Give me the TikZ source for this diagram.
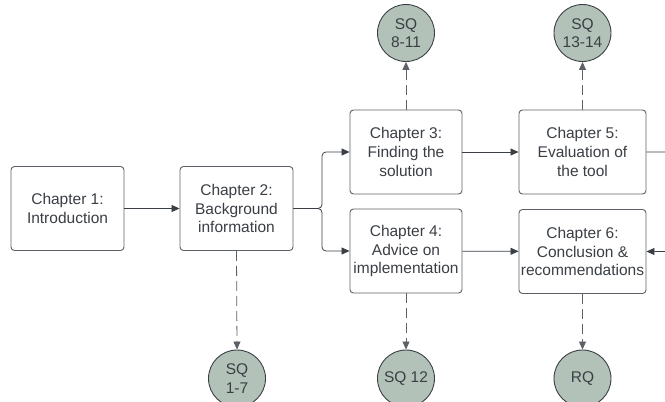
\documentclass[tikz,border=0pt]{standalone}
\usepackage{fontspec}
\setmainfont{Liberation Sans}
\usetikzlibrary{arrows.meta}
\definecolor{ink}{HTML}{3A3F45}
\definecolor{edge}{HTML}{5C6167}
\definecolor{sage}{HTML}{B3C2B8}
\begin{document}
\begin{tikzpicture}[x=1pt,y=-1pt,
  chapter/.style={draw=edge,line width=0.9pt,rounded corners=3.5pt,fill=white,
    align=center,text=ink,inner sep=1pt,minimum height=84pt,
    font=\fontsize{15.5}{18.6}\selectfont},
  question/.style={circle,draw=ink,line width=0.9pt,fill=sage,align=center,
    text=ink,minimum size=57pt,inner sep=0pt,font=\fontsize{15.5}{18.6}\selectfont},
  flow/.style={draw=ink,line width=0.8pt,-{Triangle[length=8pt,width=7pt]}},
  link/.style={draw=edge,line width=0.8pt,dash pattern=on 10pt off 5pt,
    -{Triangle[length=8pt,width=7pt]}}]
\useasboundingbox (0,0) rectangle (665,402);
\clip (0,0) rectangle (665,402);
% chapters
\node[chapter,minimum width=113pt] (c1) at (67.5,208.5) {Chapter 1:\\Introduction};
\node[chapter,minimum width=113pt] (c2) at (236.5,208.5) {Chapter 2:\\Background\\information};
\node[chapter,minimum width=112pt] (c3) at (406,152) {Chapter 3:\\Finding the\\solution};
\node[chapter,minimum width=112pt] (c4) at (406,251) {Chapter 4:\\Advice on\\implementation};
\node[chapter,minimum width=127pt] (c5) at (582.5,152) {Chapter 5:\\Evaluation of\\the tool};
\node[chapter,minimum width=127pt] (c6) at (582.5,251.5) {Chapter 6:\\Conclusion \&\\recommendations};
% research questions
\node[question] (q17) at (237,378.5) {SQ\\1-7};
\node[question] (q811) at (406,33) {SQ\\8-11};
\node[question] (q12) at (406,378.5) {SQ 12};
\node[question] (q1314) at (582.5,33) {SQ\\13-14};
\node[question] (rq) at (582.5,378.5) {RQ};
% reading order
\coordinate (fork) at (322,208.5);
\coordinate (loop) at (690,200);
\draw[flow] (c1) -- (c2);
\draw[flow,rounded corners=4pt] (c2.east) -- (fork) |- (c3.west);
\draw[flow,rounded corners=4pt] (c2.east) -- (fork) |- (c4.west);
\draw[flow] (c3) -- (c5);
\draw[flow] (c4) -- (c6);
\draw[flow,rounded corners=4pt] (c5.east) -| (loop) |- (c6.east);
% questions answered
\draw[link] (c2.south) -- (q17.north);
\draw[link] (c3.north) -- (q811.south);
\draw[link] (c4.south) -- (q12.north);
\draw[link] (c5.north) -- (q1314.south);
\draw[link] (c6.south) -- (rq.north);
\end{tikzpicture}
\end{document}
